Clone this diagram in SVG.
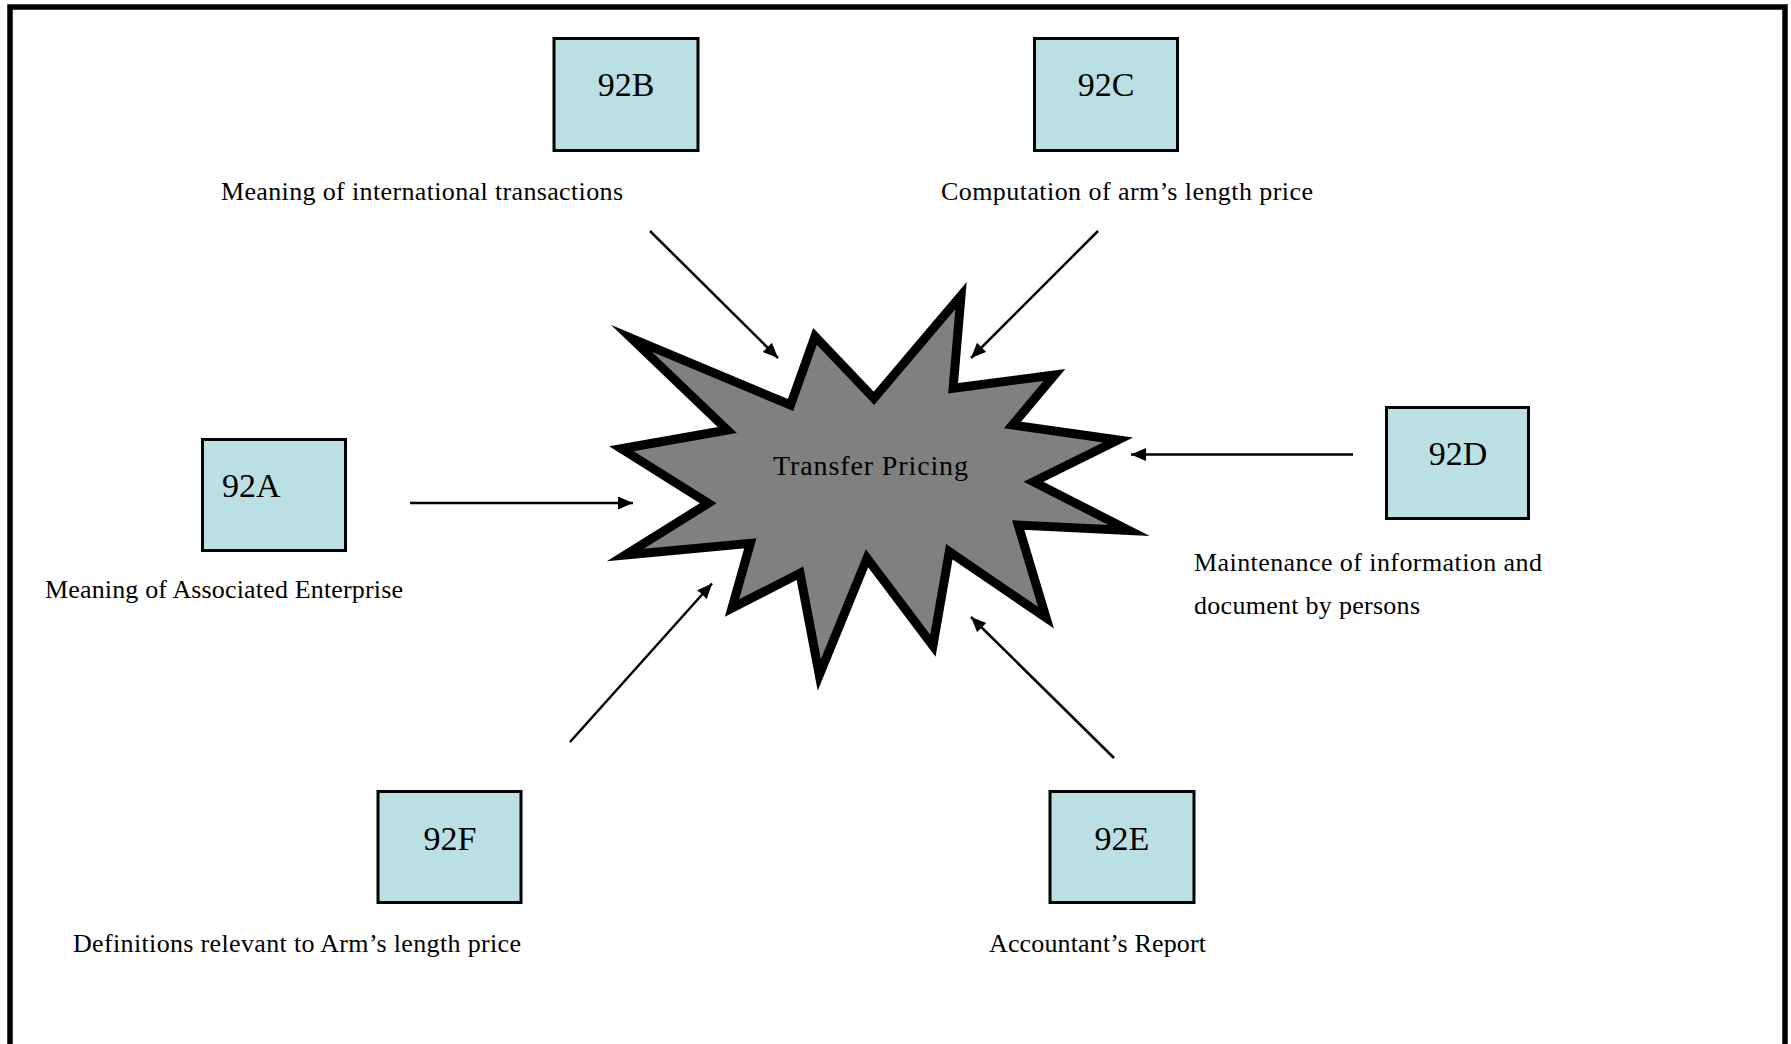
<svg xmlns="http://www.w3.org/2000/svg" width="1791" height="1044" viewBox="0 0 1791 1044">
<defs>
<style>
.box{fill:#BAE0E3;stroke:#000;stroke-width:3}
.lbl{font-family:"Liberation Serif","Times New Roman",serif;font-size:34px;fill:#000}
.txt{font-family:"Liberation Serif","Times New Roman",serif;font-size:26px;fill:#000}
.conn{stroke:#000;stroke-width:2.5;fill:none;marker-end:url(#arr)}
</style>
<marker id="arr" markerUnits="userSpaceOnUse" markerWidth="16" markerHeight="14" refX="15" refY="6.5" orient="auto">
<path d="M0,0 L15,6.5 L0,13 z" fill="#000"/>
</marker>
</defs>
<rect x="0" y="0" width="1791" height="1044" fill="#fff"/>
<rect id="frame" x="10" y="7" width="1775" height="1080" fill="none" stroke="#000" stroke-width="5.5"/>

<g id="center">
<polygon points="631.5,338.4 790.5,405 815,336.4 873.9,398.3 961,295.6 953.1,388.3 1054.5,375 1012.5,425 1118,440 1033.5,481.7 1129,530.5 1018.2,525 1046,617.7 949.3,551.7 932.9,645.7 867,558.3 819.3,675 800,573.3 732,608 750.3,543.3 625.3,555 708.2,503.3 621.4,448.7 727.3,430" fill="#808080" stroke="#000" stroke-width="9" stroke-linejoin="miter" stroke-miterlimit="10"/>
<text class="txt" x="773" y="475" style="font-size:28px" textLength="195" lengthAdjust="spacing">Transfer Pricing</text>
</g>

<g id="n92B">
<rect class="box" x="554" y="38.5" width="144" height="112"/>
<text class="lbl" x="626" y="96" text-anchor="middle">92B</text>
<text class="txt" x="221" y="200" textLength="402" lengthAdjust="spacing">Meaning of international transactions</text>
</g>

<g id="n92C">
<rect class="box" x="1034.5" y="38.5" width="143" height="112"/>
<text class="lbl" x="1106" y="96" text-anchor="middle">92C</text>
<text class="txt" x="941" y="200" textLength="372" lengthAdjust="spacing">Computation of arm’s length price</text>
</g>

<g id="n92A">
<rect class="box" x="202.5" y="439.5" width="143" height="111"/>
<text class="lbl" x="222" y="497">92A</text>
<text class="txt" x="45" y="598" textLength="358" lengthAdjust="spacing">Meaning of Associated Enterprise</text>
</g>

<g id="n92D">
<rect class="box" x="1386.5" y="407.5" width="142" height="111"/>
<text class="lbl" x="1458" y="465" text-anchor="middle">92D</text>
<text class="txt" x="1194" y="571" textLength="348" lengthAdjust="spacing">Maintenance of information and</text>
<text class="txt" x="1194" y="614" textLength="226" lengthAdjust="spacing">document by persons</text>
</g>

<g id="n92F">
<rect class="box" x="378" y="791.5" width="143" height="111"/>
<text class="lbl" x="450" y="850" text-anchor="middle">92F</text>
<text class="txt" x="73" y="952" textLength="448" lengthAdjust="spacing">Definitions relevant to Arm’s length price</text>
</g>

<g id="n92E">
<rect class="box" x="1050" y="791.5" width="144" height="111"/>
<text class="lbl" x="1122" y="850" text-anchor="middle">92E</text>
<text class="txt" x="989" y="952" textLength="217" lengthAdjust="spacing">Accountant’s Report</text>
</g>

<g id="connectors">
<line class="conn" x1="650" y1="231" x2="778" y2="358"/>
<line class="conn" x1="1098" y1="231" x2="971" y2="358"/>
<line class="conn" x1="410" y1="503" x2="633" y2="503"/>
<line class="conn" x1="1353" y1="454.5" x2="1131" y2="454.5"/>
<line class="conn" x1="570" y1="742" x2="712" y2="583.5"/>
<line class="conn" x1="1114" y1="758" x2="971" y2="617"/>
</g>
</svg>
